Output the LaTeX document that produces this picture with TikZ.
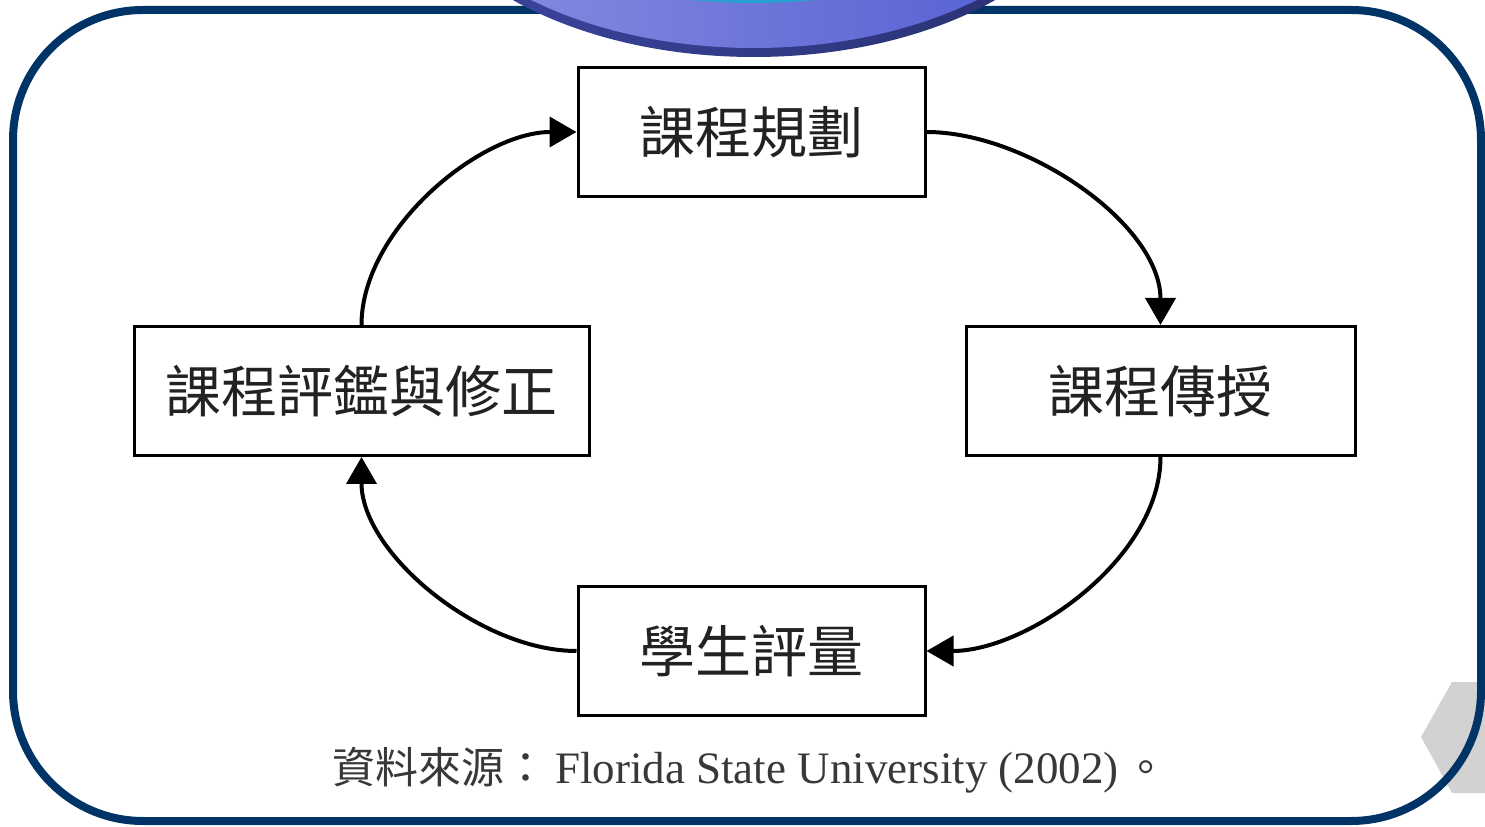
\documentclass[tikz,border=0pt]{standalone}
\usepackage{fontspec}
\setmainfont{Liberation Serif}
\newfontfamily\cjk{Noto Sans CJK TC}
\usetikzlibrary{arrows.meta}
\definecolor{navy}{RGB}{0,51,102}
\definecolor{rimL}{RGB}{60,70,160}
\definecolor{rimR}{RGB}{40,48,110}
\definecolor{bodyL}{RGB}{140,145,225}
\definecolor{bodyR}{RGB}{80,90,210}
\definecolor{cyanish}{RGB}{42,160,208}
\definecolor{txt}{RGB}{34,34,34}
\tikzset{
  stagebox/.style={draw=black, line width=1.5pt, fill=white, minimum width=173.5pt, minimum height=64.5pt, inner sep=0pt, font=\cjk\fontsize{28pt}{32pt}\selectfont, text=txt},
  flow/.style={draw=black, line width=2pt, looseness=0.85, -{Triangle[length=13.5pt,width=15pt]}}
}
\begin{document}
\begin{tikzpicture}[x=0.5pt,y=0.5pt]
\useasboundingbox (0,0) rectangle (1485,826);
\clip (0,0) rectangle (1485,826);
% grey hexagon bottom right
\fill[gray!35] (1421,89) -- (1452,144) -- (1500,144) -- (1500,33) -- (1452,33) -- cycle;
% frame
\draw[navy, line width=4pt, rounded corners=65pt] (13,5) rectangle (1481,816);
% top ellipse
\shade[left color=rimL, right color=rimR] (754,976) ellipse [x radius=350, y radius=207];
\shade[left color=bodyL, right color=bodyR] (754,985) ellipse [x radius=348, y radius=207];
\fill[cyanish] (754,926) ellipse [x radius=263, y radius=103];
% boxes
\node[stagebox, minimum width=173.5pt] (plan) at (751.5,694) {課程規劃};
\node[stagebox, minimum width=227.5pt] (eval) at (361.5,435) {課程評鑑與修正};
\node[stagebox, minimum width=194.5pt] (teach) at (1160.5,435) {課程傳授};
\node[stagebox, minimum width=173.5pt] (assess) at (751.5,175) {學生評量};
% connectors
\draw[flow] (eval.north) to[out=90,in=180] (plan.west);
\draw[flow] (plan.east) to[out=0,in=90] (teach.north);
\draw[flow] (teach.south) to[out=-90,in=0] (assess.east);
\draw[flow] (assess.west) to[out=180,in=-90] (eval.south);
% caption
\node[text=txt!90!white, inner sep=0pt] (src) at (750,56) {{\cjk\fontsize{21.5pt}{24pt}\selectfont 資料來源：}\hspace{4pt}\fontsize{22.5pt}{26pt}\selectfont Florida State University (2002)\hspace{3pt}{\cjk\fontsize{21.5pt}{24pt}\selectfont 。}};
\end{tikzpicture}
\end{document}
